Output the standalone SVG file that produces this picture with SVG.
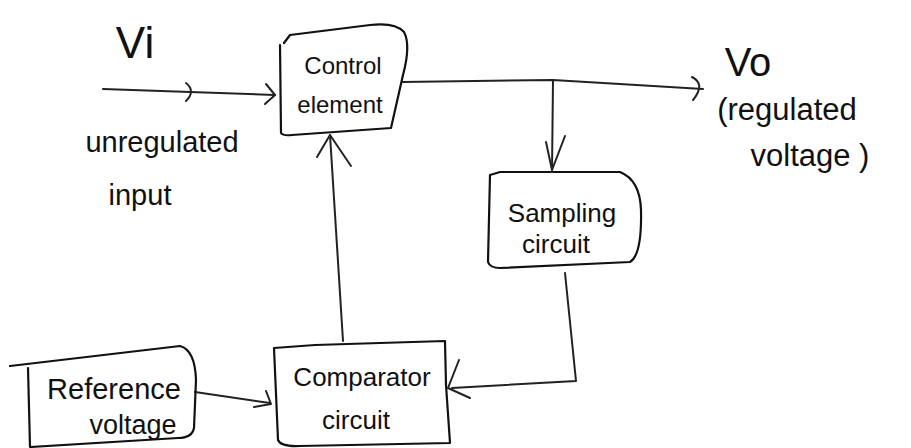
<svg xmlns="http://www.w3.org/2000/svg" width="911" height="448" viewBox="0 0 911 448">
<defs>
<style>
.box{fill:none;stroke:#111;stroke-width:2.2;stroke-linejoin:round;stroke-linecap:round}
.ln{fill:none;stroke:#222;stroke-width:2;stroke-linecap:round;stroke-linejoin:round}
.t{font-family:"Liberation Sans","DejaVu Sans",sans-serif;fill:#111;text-anchor:middle}
.bt{font-size:24px}
.lb{font-size:29px}
</style>
</defs>
<rect width="911" height="448" fill="#fff"/>
<g id="connectors">
<path class="ln" d="M103,89 L190,92 L275,95"/>
<path class="ln" d="M186,83 Q196,91 186,101"/>
<path class="ln" d="M266,84 L275,95 L265,104"/>
<path class="ln" d="M402,82 L553,80 L703,89"/>
<path class="ln" d="M692,77 Q706,84 693,100"/>
<path class="ln" d="M553,80 L552,172"/>
<path class="ln" d="M546,142 L552,170 L565,136"/>
<path class="ln" d="M565,273 L576,381 L452,388"/>
<path class="ln" d="M459,360 L448,388 L470,398"/>
<path class="ln" d="M343,341 L330,135"/>
<path class="ln" d="M317,157 L330,135 L351,166"/>
<path class="ln" d="M195,392 L270,403"/>
<path class="ln" d="M266,391 L271,404 L254,407"/>
</g>
<g id="control">
<path class="box" d="M280,45 L281,133 Q283,136 292,135 L391,128 L403,75 Q411,45 404,32 Q395,22 370,25 L290,35 L284,43"/>
<text class="t bt" x="343" y="74">Control</text>
<text class="t bt" x="340" y="113">element</text>
</g>
<g id="vi">
<text class="t" style="font-size:44px" x="135" y="58">Vi</text>
<text class="t lb" x="162" y="152">unregulated</text>
<text class="t lb" x="140" y="205">input</text>
</g>
<g id="vo">
<text class="t" style="font-size:40px" x="748" y="76">Vo</text>
<text class="t" style="font-size:31px" x="787" y="120">(regulated</text>
<text class="t" style="font-size:31px" x="810" y="166">voltage )</text>
</g>
<g id="sampling">
<path class="box" d="M490,175 L488,262 Q490,268 500,268 L630,262 Q642,255 641,210 Q640,180 620,172 L500,172 Z"/>
<text class="t" style="font-size:26px" x="562" y="222">Sampling</text>
<text class="t" style="font-size:26px" x="556" y="253">circuit</text>
</g>
<g id="comparator">
<path class="box" d="M274,348 L278,440 Q281,447 300,446 L450,443 L446,385 L445,341 L315,345 Z"/>
<text class="t" style="font-size:26px" x="362" y="386">Comparator</text>
<text class="t" style="font-size:26px" x="356" y="429">circuit</text>
</g>
<g id="reference">
<path class="box" d="M10,366 L180,346 Q195,350 196,380 L194,428 Q192,438 178,438 L30,447 L28,368"/>
<text class="t" style="font-size:29px" x="114" y="399">Reference</text>
<text class="t" style="font-size:27px" x="133" y="434">voltage</text>
</g>
</svg>
